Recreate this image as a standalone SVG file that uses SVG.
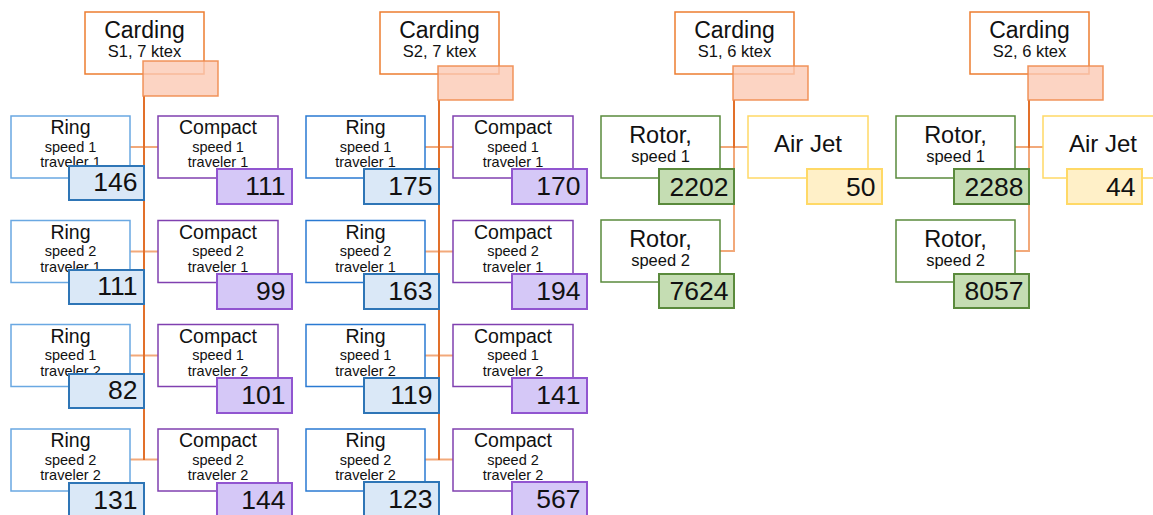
<svg xmlns="http://www.w3.org/2000/svg" width="1153" height="515" viewBox="0 0 1153 515">
<style>
text{font-family:"Liberation Sans",Arial,sans-serif;fill:#111;}
.box{fill:#fff;stroke-width:1.5;}
.card{stroke:#ed7d31;}
.pink{fill:#fbc9b4;fill-opacity:0.8;stroke:#f08a4b;stroke-opacity:0.9;stroke-width:1.5;}
.ring1{stroke:#6aa8e2;}
.ring2{stroke:#2a7ad2;}
.comp{stroke:#8040b0;}
.rotor{stroke:#5a8a3c;}
.air{stroke:#ffd966;}
.vring{fill:#dae8f7;stroke:#2e75b6;stroke-width:2;}
.vcomp{fill:#d5c8f7;stroke:#9155d0;stroke-width:2;}
.vrotor{fill:#c5ddb3;stroke:#5a8a3c;stroke-width:2;}
.vair{fill:#fff0c8;stroke:#ffd966;stroke-width:2;}
.t1{font-size:23px;text-anchor:middle;}
.t2{font-size:16.5px;text-anchor:middle;}
.tr{font-size:19.5px;text-anchor:middle;}
.ts{font-size:14.5px;text-anchor:middle;}
.tro{font-size:23.5px;text-anchor:middle;}
.trs{font-size:16.5px;text-anchor:middle;}
.tair{font-size:24px;text-anchor:middle;}
.num{font-size:26.5px;text-anchor:end;}
.vline{stroke:#e2702a;stroke-width:2;fill:none;}
.hline{stroke:#f2a97a;stroke-width:2;fill:none;}
</style>

<g id="connectors">
  <line class="hline" x1="130" y1="147" x2="158" y2="147"/>
  <line class="hline" x1="130" y1="251.5" x2="158" y2="251.5"/>
  <line class="hline" x1="130" y1="355.5" x2="158" y2="355.5"/>
  <line class="hline" x1="130" y1="459.5" x2="158" y2="459.5"/>
  <line class="vline" x1="144" y1="96" x2="144" y2="460"/>

  <line class="hline" x1="425" y1="147" x2="453" y2="147"/>
  <line class="hline" x1="425" y1="251.5" x2="453" y2="251.5"/>
  <line class="hline" x1="425" y1="355.5" x2="453" y2="355.5"/>
  <line class="hline" x1="425" y1="459.5" x2="453" y2="459.5"/>
  <line class="vline" x1="439" y1="100" x2="439" y2="460"/>

  <line class="hline" x1="720" y1="147" x2="748" y2="147"/>
  <polyline class="hline" points="720,251 734,251 734,147"/>
  <line class="vline" x1="734" y1="100" x2="734" y2="148"/>

  <line class="hline" x1="1015" y1="147" x2="1043" y2="147"/>
  <polyline class="hline" points="1015,251 1029,251 1029,147"/>
  <line class="vline" x1="1029" y1="100" x2="1029" y2="148"/>
</g>

<!-- Block 1 -->
<g id="card1">
  <rect class="box card" x="85" y="12" width="119" height="62"/>
  <text class="t1" x="144.5" y="37.5">Carding</text>
  <text class="t2" x="144.5" y="56.5">S1, 7 ktex</text>
  <rect class="pink" x="143" y="61" width="75" height="35"/>
</g>
<g id="ring1a">
  <rect class="box ring1" x="11" y="116" width="119" height="62"/>
  <text class="tr" x="70.5" y="134">Ring</text>
  <text class="ts" x="70.5" y="151.5">speed 1</text>
  <text class="ts" x="70.5" y="167">traveler 1</text>
  <rect class="vring" x="69" y="166" width="75" height="34"/>
  <text class="num" x="137.5" y="191">146</text>
</g>
<g id="comp1a">
  <rect class="box comp" x="158" y="116" width="120" height="62"/>
  <text class="tr" x="218" y="134">Compact</text>
  <text class="ts" x="218" y="151.5">speed 1</text>
  <text class="ts" x="218" y="167">traveler 1</text>
  <rect class="vcomp" x="217" y="169" width="75" height="35"/>
  <text class="num" x="285.5" y="195">111</text>
</g>
<g id="ring1b">
  <rect class="box ring1" x="11" y="220.5" width="119" height="62"/>
  <text class="tr" x="70.5" y="238.5">Ring</text>
  <text class="ts" x="70.5" y="256">speed 2</text>
  <text class="ts" x="70.5" y="271.5">traveler 1</text>
  <rect class="vring" x="69" y="270" width="75" height="34"/>
  <text class="num" x="137.5" y="295">111</text>
</g>
<g id="comp1b">
  <rect class="box comp" x="158" y="220.5" width="120" height="62"/>
  <text class="tr" x="218" y="238.5">Compact</text>
  <text class="ts" x="218" y="256">speed 2</text>
  <text class="ts" x="218" y="271.5">traveler 1</text>
  <rect class="vcomp" x="217" y="274" width="75" height="35"/>
  <text class="num" x="285.5" y="300">99</text>
</g>
<g id="ring1c">
  <rect class="box ring1" x="11" y="324.5" width="119" height="62"/>
  <text class="tr" x="70.5" y="342.5">Ring</text>
  <text class="ts" x="70.5" y="360">speed 1</text>
  <text class="ts" x="70.5" y="375.5">traveler 2</text>
  <rect class="vring" x="69" y="374" width="75" height="34"/>
  <text class="num" x="137.5" y="399">82</text>
</g>
<g id="comp1c">
  <rect class="box comp" x="158" y="324.5" width="120" height="62"/>
  <text class="tr" x="218" y="342.5">Compact</text>
  <text class="ts" x="218" y="360">speed 1</text>
  <text class="ts" x="218" y="375.5">traveler 2</text>
  <rect class="vcomp" x="217" y="378" width="75" height="35"/>
  <text class="num" x="285.5" y="404">101</text>
</g>
<g id="ring1d">
  <rect class="box ring1" x="11" y="429" width="119" height="62"/>
  <text class="tr" x="70.5" y="447">Ring</text>
  <text class="ts" x="70.5" y="464.5">speed 2</text>
  <text class="ts" x="70.5" y="480">traveler 2</text>
  <rect class="vring" x="69" y="483" width="75" height="34"/>
  <text class="num" x="137.5" y="508.5">131</text>
</g>
<g id="comp1d">
  <rect class="box comp" x="158" y="429" width="120" height="62"/>
  <text class="tr" x="218" y="447">Compact</text>
  <text class="ts" x="218" y="464.5">speed 2</text>
  <text class="ts" x="218" y="480">traveler 2</text>
  <rect class="vcomp" x="217" y="483" width="75" height="35"/>
  <text class="num" x="285.5" y="508.5">144</text>
</g>

<!-- Block 2 -->
<g id="card2">
  <rect class="box card" x="380" y="12" width="119" height="62"/>
  <text class="t1" x="439.5" y="37.5">Carding</text>
  <text class="t2" x="439.5" y="56.5">S2, 7 ktex</text>
  <rect class="pink" x="438" y="66" width="75" height="34"/>
</g>
<g id="ring2a">
  <rect class="box ring2" x="306" y="116" width="119" height="62"/>
  <text class="tr" x="365.5" y="134">Ring</text>
  <text class="ts" x="365.5" y="151.5">speed 1</text>
  <text class="ts" x="365.5" y="167">traveler 1</text>
  <rect class="vring" x="364" y="169" width="75" height="35"/>
  <text class="num" x="432.5" y="195">175</text>
</g>
<g id="comp2a">
  <rect class="box comp" x="453" y="116" width="120" height="62"/>
  <text class="tr" x="513" y="134">Compact</text>
  <text class="ts" x="513" y="151.5">speed 1</text>
  <text class="ts" x="513" y="167">traveler 1</text>
  <rect class="vcomp" x="512" y="169" width="75" height="35"/>
  <text class="num" x="580.5" y="195">170</text>
</g>
<g id="ring2b">
  <rect class="box ring2" x="306" y="220.5" width="119" height="62"/>
  <text class="tr" x="365.5" y="238.5">Ring</text>
  <text class="ts" x="365.5" y="256">speed 2</text>
  <text class="ts" x="365.5" y="271.5">traveler 1</text>
  <rect class="vring" x="364" y="274" width="75" height="35"/>
  <text class="num" x="432.5" y="300">163</text>
</g>
<g id="comp2b">
  <rect class="box comp" x="453" y="220.5" width="120" height="62"/>
  <text class="tr" x="513" y="238.5">Compact</text>
  <text class="ts" x="513" y="256">speed 2</text>
  <text class="ts" x="513" y="271.5">traveler 1</text>
  <rect class="vcomp" x="512" y="274" width="75" height="35"/>
  <text class="num" x="580.5" y="300">194</text>
</g>
<g id="ring2c">
  <rect class="box ring2" x="306" y="324.5" width="119" height="62"/>
  <text class="tr" x="365.5" y="342.5">Ring</text>
  <text class="ts" x="365.5" y="360">speed 1</text>
  <text class="ts" x="365.5" y="375.5">traveler 2</text>
  <rect class="vring" x="364" y="378" width="75" height="35"/>
  <text class="num" x="432.5" y="404">119</text>
</g>
<g id="comp2c">
  <rect class="box comp" x="453" y="324.5" width="120" height="62"/>
  <text class="tr" x="513" y="342.5">Compact</text>
  <text class="ts" x="513" y="360">speed 1</text>
  <text class="ts" x="513" y="375.5">traveler 2</text>
  <rect class="vcomp" x="512" y="378" width="75" height="35"/>
  <text class="num" x="580.5" y="404">141</text>
</g>
<g id="ring2d">
  <rect class="box ring2" x="306" y="429" width="119" height="62"/>
  <text class="tr" x="365.5" y="447">Ring</text>
  <text class="ts" x="365.5" y="464.5">speed 2</text>
  <text class="ts" x="365.5" y="480">traveler 2</text>
  <rect class="vring" x="364" y="482" width="75" height="35"/>
  <text class="num" x="432.5" y="508">123</text>
</g>
<g id="comp2d">
  <rect class="box comp" x="453" y="429" width="120" height="62"/>
  <text class="tr" x="513" y="447">Compact</text>
  <text class="ts" x="513" y="464.5">speed 2</text>
  <text class="ts" x="513" y="480">traveler 2</text>
  <rect class="vcomp" x="512" y="482" width="75" height="35"/>
  <text class="num" x="580.5" y="508">567</text>
</g>

<!-- Block 3 -->
<g id="card3">
  <rect class="box card" x="675" y="12" width="119" height="62"/>
  <text class="t1" x="734.5" y="37.5">Carding</text>
  <text class="t2" x="734.5" y="56.5">S1, 6 ktex</text>
  <rect class="pink" x="733" y="66" width="75" height="34"/>
</g>
<g id="rotor3a">
  <rect class="box rotor" x="601" y="116" width="119" height="62"/>
  <text class="tro" x="660.5" y="143">Rotor,</text>
  <text class="trs" x="660.5" y="162">speed 1</text>
  <rect class="vrotor" x="659" y="169" width="75" height="35"/>
  <text class="num" x="728.5" y="195.5">2202</text>
</g>
<g id="air3">
  <rect class="box air" x="748" y="116" width="120" height="62"/>
  <text class="tair" x="808" y="151.5">Air Jet</text>
  <rect class="vair" x="807" y="169" width="75" height="35"/>
  <text class="num" x="875.5" y="195.5">50</text>
</g>
<g id="rotor3b">
  <rect class="box rotor" x="601" y="220" width="119" height="62"/>
  <text class="tro" x="660.5" y="247">Rotor,</text>
  <text class="trs" x="660.5" y="266">speed 2</text>
  <rect class="vrotor" x="659" y="274" width="75" height="34"/>
  <text class="num" x="728.5" y="300">7624</text>
</g>

<!-- Block 4 -->
<g id="card4">
  <rect class="box card" x="970" y="12" width="119" height="62"/>
  <text class="t1" x="1029.5" y="37.5">Carding</text>
  <text class="t2" x="1029.5" y="56.5">S2, 6 ktex</text>
  <rect class="pink" x="1028" y="66" width="75" height="34"/>
</g>
<g id="rotor4a">
  <rect class="box rotor" x="896" y="116" width="119" height="62"/>
  <text class="tro" x="955.5" y="143">Rotor,</text>
  <text class="trs" x="955.5" y="162">speed 1</text>
  <rect class="vrotor" x="954" y="169" width="75" height="35"/>
  <text class="num" x="1023.5" y="195.5">2288</text>
</g>
<g id="air4">
  <rect class="box air" x="1043" y="116" width="120" height="62"/>
  <text class="tair" x="1103" y="151.5">Air Jet</text>
  <rect class="vair" x="1067" y="169" width="75" height="35"/>
  <text class="num" x="1135.5" y="195.5">44</text>
</g>
<g id="rotor4b">
  <rect class="box rotor" x="896" y="220" width="119" height="62"/>
  <text class="tro" x="955.5" y="247">Rotor,</text>
  <text class="trs" x="955.5" y="266">speed 2</text>
  <rect class="vrotor" x="954" y="274" width="75" height="34"/>
  <text class="num" x="1023.5" y="300">8057</text>
</g>
</svg>
